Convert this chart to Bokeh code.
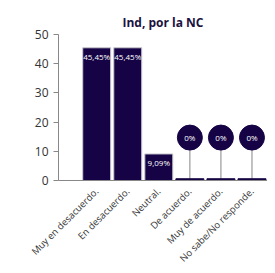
from bokeh.plotting import figure
from bokeh.models import Range1d, FixedTicker, ColumnDataSource
from bokeh.core.properties import value
from bokeh.embed import file_html
from bokeh.resources import INLINE
import math

categories = ["Muy en desacuerdo.", "En desacuerdo.", "Neutral.", "De acuerdo.", "Muy de acuerdo.", "No sabe/No responde."]
values = [45.45, 45.45, 9.09, 0, 0, 0]
labels = ["45,45%", "45,45%", "9,09%", "0%", "0%", "0%"]
y_ticks = [0, 10, 20, 30, 40, 50]

NAVY = "#150345"
FONT = "Open Sans"

xs = [i + 0.5 for i in range(len(categories))]

p = figure(width=267, height=272, output_backend="svg", toolbar_location=None,
           x_range=Range1d(-0.73, 6.0), y_range=Range1d(0, 50),
           min_border_left=58, min_border_right=0, min_border_top=34, min_border_bottom=88)

p.title.text = "Ind, por la NC"
p.title.align = "center"
p.title.offset = -5
p.title.text_font = FONT
p.title.text_font_size = "12px"
p.title.text_font_style = "bold"
p.title.text_color = "#1b1240"
p.title.standoff = 8

nz = [i for i, v in enumerate(values) if v > 0]
zz = [i for i, v in enumerate(values) if v == 0]

src = ColumnDataSource(dict(x=[xs[i] for i in nz], top=[values[i] for i in nz], lab=[labels[i] for i in nz]))
p.vbar(x="x", top="top", bottom=0, width=0.9, source=src, fill_color=NAVY, line_color="#c8c8d0", line_width=1)
p.text(x="x", y="top", text="lab", source=src, text_color="white", text_font=value(FONT),
       text_font_size="8px", text_align="center", text_baseline="top", y_offset=3)

marker_y = 14.7
zsrc = ColumnDataSource(dict(x=[xs[i] for i in zz], top=[values[i] for i in zz], lab=[labels[i] for i in zz],
                             my=[marker_y] * len(zz)))
p.segment(x0="x", y0=0.6, x1="x", y1="my", source=zsrc, line_color="#999999", line_width=1.2)
p.vbar(x="x", top=0.6, bottom=0, width=0.9, source=zsrc, fill_color=NAVY, line_color=NAVY, line_width=1)
p.scatter(x="x", y="my", source=zsrc, size=25, fill_color=NAVY, line_color=NAVY)
p.text(x="x", y="my", text="lab", source=zsrc, text_color="white", text_font=value(FONT),
       text_font_size="8px", text_align="center", text_baseline="middle")

p.xaxis.ticker = FixedTicker(ticks=xs)
p.xaxis.major_label_overrides = {x: c for x, c in zip(xs, categories)}
p.xaxis.major_label_orientation = math.pi / 4
p.xaxis.major_tick_line_color = None
p.xaxis.minor_tick_line_color = None
p.xaxis.axis_line_color = "#888888"
p.xaxis.major_label_text_font = FONT
p.xaxis.major_label_text_font_size = "9.5px"
p.xaxis.major_label_text_color = "#333333"
p.xaxis.major_label_standoff = 3

p.yaxis.ticker = FixedTicker(ticks=y_ticks)
p.yaxis.minor_tick_line_color = None
p.yaxis.axis_line_color = "#888888"
p.yaxis.major_tick_line_color = "#888888"
p.yaxis.major_tick_out = 5
p.yaxis.major_tick_in = 0
p.yaxis.major_label_text_font = FONT
p.yaxis.major_label_text_font_size = "12px"
p.yaxis.major_label_text_color = "#333333"

p.xgrid.grid_line_color = None
p.ygrid.grid_line_color = None
p.outline_line_color = None

open("out.html", "w").write(file_html(p, INLINE))
